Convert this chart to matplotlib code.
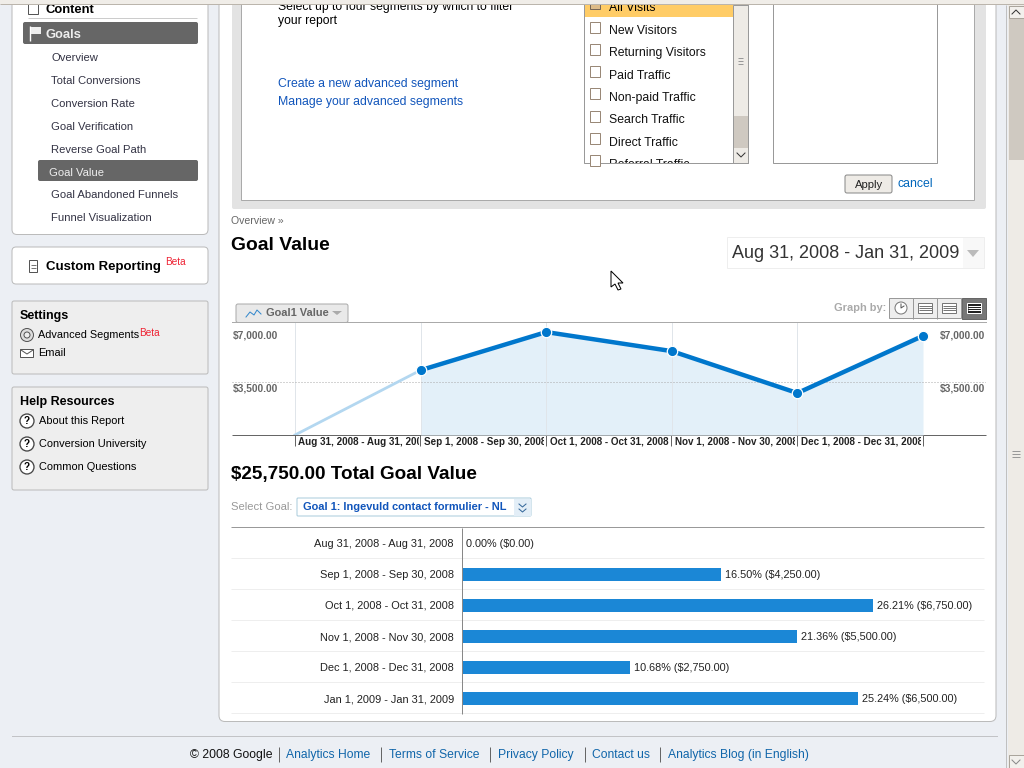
import matplotlib
matplotlib.use('Agg')
import matplotlib.pyplot as plt
from matplotlib.patches import Rectangle, FancyBboxPatch, Circle, Polygon

plt.rcParams['font.family'] = ['Liberation Sans', 'DejaVu Sans']

# data
periods = ['Aug 31, 2008 - Aug 31, 2008', 'Sep 1, 2008 - Sep 30, 2008', 'Oct 1, 2008 - Oct 31, 2008',
           'Nov 1, 2008 - Nov 30, 2008', 'Dec 1, 2008 - Dec 31, 2008', 'Jan 1, 2009 - Jan 31, 2009']
values = [0, 4250, 6750, 5500, 2750, 6500]
bar_labels = ['0.00% ($0.00)', '16.50% ($4,250.00)', '26.21% ($6,750.00)',
              '21.36% ($5,500.00)', '10.68% ($2,750.00)', '25.24% ($6,500.00)']
y_ticks = [3500, 7000]
y_tick_labels = ['$3,500.00', '$7,000.00']

goal_items = ['Overview', 'Total Conversions', 'Conversion Rate', 'Goal Verification',
              'Reverse Goal Path', 'Goal Value', 'Goal Abandoned Funnels', 'Funnel Visualization']
segments = ['New Visitors', 'Returning Visitors', 'Paid Traffic', 'Non-paid Traffic',
            'Search Traffic', 'Direct Traffic', 'Referral Traffic']
help_items = ['About this Report', 'Conversion University', 'Common Questions']
footer_links = ['Analytics Home', 'Terms of Service', 'Privacy Policy', 'Contact us', 'Analytics Blog (in English)']

BLUE = '#0077cc'
LINK = '#1155bb'
W, H = 1024, 768
PX = 0.72  # one pixel in points

fig = plt.figure(figsize=(W / 100, H / 100), dpi=100, facecolor='#eceff4')
bg = fig.add_axes([0, 0, 1, 1])
bg.set_xlim(0, W)
bg.set_ylim(H, 0)
bg.axis('off')


def box(x0, y0, x1, y1, fc='white', ec='none', lw=PX, z=1, r=0):
    if ec != 'none':
        x0, y0, x1, y1 = x0 - 0.5, y0 - 0.5, x1 - 0.5, y1 - 0.5
    if r:
        p = FancyBboxPatch((x0 + r, y0 + r), x1 - x0 - 2 * r, y1 - y0 - 2 * r, boxstyle='round,pad=%d' % r,
                           fc=fc, ec=ec, lw=lw, zorder=z)
    else:
        p = Rectangle((x0, y0), x1 - x0, y1 - y0, fc=fc, ec=ec, lw=lw, zorder=z)
    bg.add_patch(p)
    return p


def txt(x, y, s, size=12, color='#222222', bold=False, ha='left', z=5, clip=None):
    t = bg.text(x, y + 2, s, fontsize=size * 0.72, color=color, ha=ha, va='center',
                fontweight='bold' if bold else 'normal', zorder=z)
    if clip is not None:
        x0, y0, x1, y1 = clip
        t.set_clip_path(Rectangle((x0, y0), x1 - x0, y1 - y0, transform=bg.transData))
        t.set_clip_on(True)
    return t


def hline(x0, x1, y, color='#999999', lw=PX, ls='-', z=3):
    bg.plot([x0, x1], [y - 0.5, y - 0.5], color=color, lw=lw, ls=ls, zorder=z, solid_capstyle='butt')


def vline(x, y0, y1, color='#999999', lw=PX, z=3):
    bg.plot([x - 0.5, x - 0.5], [y0, y1], color=color, lw=lw, zorder=z, solid_capstyle='butt')


# main panels
box(219.5, -20, 996.5, 722, ec='#bbbbbb', r=6)
box(12.5, -20, 208.5, 235, ec='#bbbbbb', r=5)

# left nav
box(28.5, 3.5, 38.5, 14.5, fc='white', ec='#555555')
txt(46, 8, 'Content', 13, '#000000', True)
hline(28, 197, 18.5, '#cccccc')
box(23, 22, 198, 44, fc='#666666', r=2)
vline(30.5, 26, 41, 'white', 1, z=4)
bg.add_patch(Polygon([[31, 27], [41, 27], [41, 34], [31, 34]], fc='#eeeeee', zorder=4))
txt(46, 33, 'Goals', 13, '#eeeeee', True)
box(38, 160, 198, 181, fc='#666666', r=2)
for i, item in enumerate(goal_items):
    active = item == 'Goal Value'
    txt(49 if active else 51, 56 + 22.9 * i, item, 11.2, '#eeeeee' if active else '#333344')

# custom reporting
box(12.5, 247.5, 208.5, 284.5, ec='#bbbbbb', r=4)
box(29.5, 260.5, 37.5, 272.5, ec='#555555')
for yy in (265.5, 268.5):
    hline(31, 36, yy, '#777777')
txt(46, 265, 'Custom Reporting', 13.2, '#000000', True)
txt(165, 260, 'Beta', 10, '#ee2233')

# settings
box(12.5, 301.5, 208.5, 374.5, fc='#eeeeee', ec='#bbbbbb', r=2)
txt(20, 314, 'Settings', 12.5, '#000000', True)
bg.add_patch(Circle((27, 335), 6.5, fc='#dddddd', ec='#555555', lw=PX, zorder=4))
bg.add_patch(Circle((27, 335), 3, fc='#eeeeee', ec='#555555', lw=PX, zorder=4))
txt(38, 333.5, 'Advanced Segments', 10.9, '#000000')
txt(139, 331, 'Beta', 10, '#ee2233')
box(20.5, 349.5, 33.5, 357.5, fc='white', ec='#555555', z=4)
bg.plot([21, 27, 33], [350, 354, 350], color='#555555', lw=PX, zorder=5)
txt(38, 351, 'Email', 11, '#000000')

# help
box(12.5, 387.5, 208.5, 490.5, fc='#eeeeee', ec='#bbbbbb', r=2)
txt(20, 400, 'Help Resources', 12.5, '#000000', True)
for i, item in enumerate(help_items):
    yy = 420 + 23 * i
    bg.add_patch(Circle((27, yy + 1), 7, fc='white', ec='#444444', lw=PX * 1.3, zorder=4))
    txt(27, yy - 1, '?', 10, '#000000', True, ha='center')
    txt(39, yy - 1, item, 11, '#000000')

# segment panel
box(232, -10, 986, 209, fc='#e3e3e3', r=2)
box(241.5, -10, 974.5, 200.5, ec='#aaaaaa')
txt(278, 5, 'Select up to four segments by which to filter', 12.1, '#000000')
txt(278, 19, 'your report', 12.1, '#000000')
txt(278, 82, 'Create a new advanced segment', 12.3, LINK)
txt(278, 100, 'Manage your advanced segments', 12.3, LINK)

box(584.5, -5, 748.5, 163.5, ec='#999999', z=2)
box(585, -5, 733, 17, fc='#ffcc66', z=2)
box(590.5, 1.5, 600.5, 9.5, fc='#ddbb88', ec='#776655', z=3)
txt(609, 6, 'All Visits', 12.2, '#000000')
for i, s in enumerate(segments):
    yy = 30 + 22.3 * i
    box(590.5, yy - 8, 600.5, yy + 3, ec='#998877', z=3)
    txt(609, yy - 1, s, 12.2, '#111111', clip=(585, 0, 733, 163))
box(733.5, 5, 748.5, 163.5, fc='#eeebe6', ec='#999999', z=4)
box(734, 116, 748, 148, fc='#cfc9c1', z=4)
for yy in (58.5, 61.5, 64.5):
    hline(738, 743, yy, '#999999', z=5)
bg.plot([737, 741, 745], [153, 157, 153], color='#333333', lw=PX, zorder=6)

box(773.5, -5, 937.5, 163.5, ec='#999999', z=2)
box(845.5, 175.5, 892.5, 193.5, fc='#eeebe6', ec='#888888', r=2)
txt(869, 183, 'Apply', 11.2, '#222222', ha='center')
txt(897, 182, 'cancel', 12.2, '#0066bb')

# heading
txt(231, 219.5, 'Overview \u00bb', 10.5, '#666666')
txt(231, 243, 'Goal Value', 19.3, '#000000', True)
box(727.5, 237.5, 984.5, 268.5, fc='white', ec='#eeeeee')
box(963, 238, 984, 268, fc='#f8f8f8')
txt(732, 251, 'Aug 31, 2008 - Jan 31, 2009', 18, '#333333')
bg.add_patch(Polygon([[967, 250], [979, 250], [973, 257]], fc='#bbbbbb', zorder=5))

# mouse pointer
bg.add_patch(Polygon([[611, 271], [611, 287], [615, 284], [618, 290], [621, 289], [618, 283], [623, 283]],
                     fc='white', ec='black', lw=PX, zorder=8))

# graph tab + graph by
box(236.5, 304.5, 348.5, 323, fc='#e9e9e9', ec='#aaaaaa', r=2)
bg.plot([246, 250, 254, 257, 261], [317, 312, 315, 310, 314], color='#3388cc', lw=PX, zorder=5)
txt(266, 311, 'Goal1 Value', 11, '#666666', True)
bg.add_patch(Polygon([[332, 311], [342, 311], [337, 315]], fc='#aaaaaa', zorder=5))
txt(834, 306, 'Graph by:', 11, '#aaaaaa', True)
box(889.5, 298.5, 961.5, 318.5, fc='#eeeeee', ec='#999999')
box(962, 298, 986, 319, fc='#777777', ec='#666666')
vline(913.5, 298, 319)
vline(937.5, 298, 319)
bg.add_patch(Circle((901, 308), 6, fc='white', ec='#777777', lw=PX, zorder=4))
bg.plot([901, 901, 904], [304, 308, 306], color='#555555', lw=PX, zorder=5)
for x0, col, fc in [(918, '#777777', 'white'), (942, '#777777', 'white'), (967, 'white', '#222222')]:
    box(x0 + 0.5, 303.5, x0 + 14.5, 313.5, fc=fc, ec=col, z=4)
    for yy in (306.5, 308.5, 310.5):
        hline(x0 + 1, x0 + 14, yy, col if fc != '#222222' else 'white', z=5)

# line chart
lx0, lx1, ly0, ly1 = 232, 986, 322, 435
ax = fig.add_axes([lx0 / W, 1 - ly1 / H, (lx1 - lx0) / W, (ly1 - ly0) / H])
ax.patch.set_alpha(0)
xs = list(range(len(values)))
step = (923 - 295) / 5
ax.set_xlim((lx0 - 295) / step, (lx1 - 295) / step)
ax.set_ylim(0, 7410)
ax.fill_between(xs[1:], values[1:], 0, color='#e3f0f9', lw=0, zorder=1)
for x in xs[:-1]:
    ax.axvline(x, color='#e0e5ea', lw=PX, zorder=2)
ax.axhline(y_ticks[0], color='#aaaaaa', lw=PX, ls=(0, (1, 2)), zorder=2)
ax.plot(xs[:2], values[:2], color='#b3d7f0', lw=2, zorder=3)
ax.plot(xs[1:], values[1:], color=BLUE, lw=3.2, zorder=4, solid_capstyle='butt')
ax.plot(xs[1:], values[1:], 'o', color=BLUE, ms=7.5, mec='white', mew=0.9, zorder=5)
ax.set_xticks([])
ax.set_yticks([])
for name in ('left', 'right', 'bottom'):
    ax.spines[name].set_visible(False)
ax.spines['top'].set_color('#aaaaaa')
ax.spines['top'].set_linewidth(PX)
hline(lx0, lx1, 435.5, '#666666', PX, z=6)

# labels of the line chart sit below their gridlines
for t, lab in zip(y_ticks, y_tick_labels):
    yy = ly1 - t * (ly1 - ly0) / 7410 + 5
    txt(233, yy, lab, 10.2, '#666666', True)
    txt(985, yy, lab, 10.2, '#666666', True, ha='right')
for i, p in enumerate(periods[:5]):
    x = 295 + step * i
    vline(x, 435, 446, '#666666')
    txt(x + 3.5, 440, p, 9.9, '#222222', True, clip=(x + 1, 435, x + step - 2, 450))
vline(923, 435, 446, '#666666')

# total + goal selector
txt(231, 473, '$25,750.00 Total Goal Value', 18.9, '#000000', True)
txt(231, 505.5, 'Select Goal:', 11.2, '#999999')
box(297.5, 498.5, 531.5, 516.5, ec='#aaccdd', r=1)
box(514, 499, 531, 516, fc='#e3eef7', z=2)
txt(303, 505.5, 'Goal 1: Ingevuld contact formulier - NL', 11.05, LINK, True)
bg.plot([519, 522.5, 526], [504, 507, 504], color='#336699', lw=PX, zorder=5)
bg.plot([519, 522.5, 526], [509, 512, 509], color='#336699', lw=PX, zorder=5)

# bar chart
bx0, bx1, by0, by1 = 463, 984, 527.5, 714
ax2 = fig.add_axes([bx0 / W, 1 - by1 / H, (bx1 - bx0) / W, (by1 - by0) / H])
ax2.patch.set_alpha(0)
rows = list(range(len(values)))
ax2.barh(rows, values, height=13 / 31, color='#1b87d6', lw=0, zorder=3)
ax2.set_xlim(0, (bx1 - bx0) / 0.0607)
ax2.set_ylim((by1 - 543) / 31, (by0 - 543) / 31)
ax2.set_xticks([])
ax2.set_yticks([])
for s in ax2.spines.values():
    s.set_visible(False)
for r, v, lab in zip(rows, values, bar_labels):
    ax2.annotate(lab, (v, r), xytext=(4 if v else 3, -1), textcoords='offset pixels', va='center',
                 fontsize=10.9 * 0.72, color='#222222', zorder=5, annotation_clip=False)

hline(231, 984, 527.5, '#999999')
vline(462.5, 527.5, 714, '#888888', z=4)
for i, p in enumerate(periods):
    yy = 543 + 31 * i
    txt(454, yy - 1, p, 11, '#222222', ha='right')
    hline(231, 984, yy + 15.5, '#eeeeee', z=1.5)

# footer
hline(12, 997, 736, '#999999', PX, (0, (1, 1)))
txt(190, 753, '\u00a9 2008 Google', 12.2, '#111111')
foot_x = [286, 389, 498, 592, 668]
sep_x = [279.5, 381.5, 490.5, 585.5, 660.5]
for x, sx, s in zip(foot_x, sep_x, footer_links):
    txt(x, 753, s, 12.1, '#1166aa')
    vline(sx, 747, 762, '#666666')

# browser chrome and page scrollbar on top
box(0, 0, W, 4, fc='#f0ede8', z=20)
hline(0, W, 4.5, '#bbb5ac', z=21)
box(1000, 5, 1008, H, fc='#ecEFF4', z=19)
vline(1006.5, 5, H, '#c0c0c0', z=20)
box(1008, 5, W, H, fc='#eeebe6', z=20)
box(1009, 19, W, 160, fc='#cfc9c1', z=21)
box(1009.5, 6.5, W, 18.5, fc='#f2f0ec', ec='#aaa59c', z=21)
box(1009.5, 755.5, W, H, fc='#f2f0ec', ec='#aaa59c', z=21)
bg.plot([1012, 1016, 1020], [14, 10, 14], color='#333333', lw=PX, zorder=22)
bg.plot([1012, 1016, 1020], [760, 764, 760], color='#888888', lw=PX, zorder=22)
for yy in (451.5, 454.5, 457.5):
    hline(1012, 1020, yy, '#999999', z=22)

fig.savefig('out.png', dpi=100)
